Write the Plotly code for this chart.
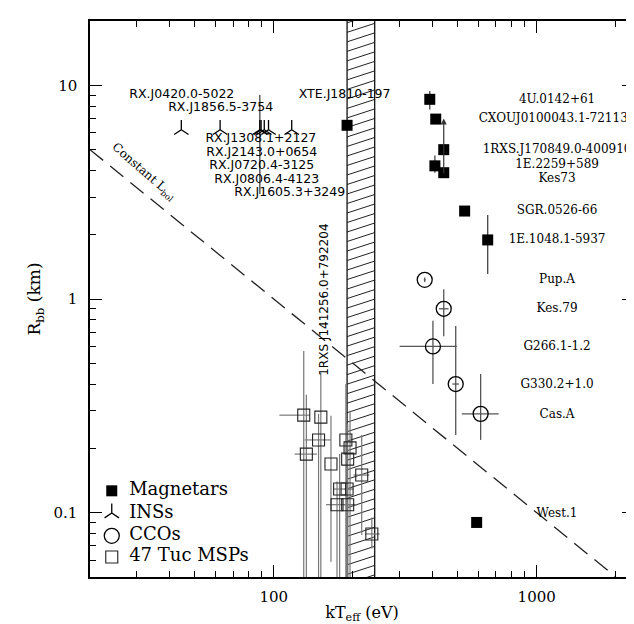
import numpy as np
import plotly.graph_objects as go

# ---- data ----
mag_names = ["XTE.J1810-197", "4U.0142+61", "CXOUJ0100043.1-721134", "1RXS.J170849.0-400910",
             "1E.2259+589", "Kes73", "SGR.0526-66", "1E.1048.1-5937", "West.1"]
mag_kT = [190, 392, 413, 443, 410, 443, 532, 651, 591]
mag_R = [6.5, 8.6, 6.95, 5.0, 4.2, 3.9, 2.58, 1.89, 0.09]
mag_R_lo = [6.5, 7.7, 6.95, 5.0, 3.9, 3.9, 2.58, 1.31, 0.09]
mag_R_hi = [6.5, 9.4, 6.95, 5.0, 4.7, 3.9, 2.58, 2.47, 0.09]
mag_label_kT = [186, 1195, 1195, 1195, 1195, 1195, 1195, 1195, 1195]
mag_label_R = [9.0, 8.53, 6.95, 4.98, 4.24, 3.65, 2.58, 1.89, 0.0986]
# upward arrow (lower limit) drawn in the 1RXS / Kes73 column
arrow_kT = 443
arrow_R = [3.8, 7.0]

ins_names = ["RX.J0420.0-5022", "RX.J1856.5-3754", "RX.J1308.1+2127", "RX.J2143.0+0654",
             "RX.J0720.4-3125", "RX.J0806.4-4123", "RX.J1605.3+3249"]
ins_kT = [44.5, 62.5, 88.5, 89.5, 92, 95.5, 117]
ins_R = [6.2, 6.2, 6.2, 6.2, 6.2, 6.2, 6.2]
ins_R_lo = [6.2, 6.2, 3.1, 6.2, 6.2, 6.2, 6.2]
ins_R_hi = [6.2, 6.2, 9.0, 6.2, 6.2, 6.2, 6.2]
ins_label_kT = [44.7, 62.8, 89.3, 90, 90, 94, 115]
ins_label_R = [9.02, 7.83, 5.61, 4.85, 4.19, 3.62, 3.13]

cco_names = ["Pup.A", "Kes.79", "G266.1-1.2", "G330.2+1.0", "Cas.A"]
cco_kT = [375, 443, 403, 492, 612]
cco_R = [1.23, 0.90, 0.60, 0.40, 0.29]
cco_kT_lo = [372, 425, 301, 478, 519]
cco_kT_hi = [378, 462, 497, 506, 717]
cco_R_lo = [1.2, 0.67, 0.40, 0.231, 0.219]
cco_R_hi = [1.26, 1.11, 0.79, 0.748, 0.446]
cco_label_kT = [1195, 1195, 1195, 1195, 1195]
cco_label_R = [1.23, 0.898, 0.597, 0.396, 0.286]

msp_kT = [130, 151, 148, 133, 165, 188, 195, 191, 216, 178, 190, 174, 191, 236]
msp_R = [0.286, 0.280, 0.219, 0.188, 0.169, 0.219, 0.201, 0.178, 0.150, 0.129, 0.129, 0.109, 0.109, 0.0795]
msp_kT_lo = [105, 151, 131, 120, 165, 188, 195, 191, 201, 168, 185, 158, 185, 222]
msp_kT_hi = [137, 151, 165, 146, 165, 188, 195, 191, 231, 201, 197, 207, 207, 253]
msp_R_lo = [0.02, 0.02, 0.02, 0.02, 0.059, 0.02, 0.02, 0.02, 0.0787, 0.02, 0.02, 0.02, 0.02, 0.068]
msp_R_hi = [0.571, 0.45, 0.29, 0.356, 0.284, 0.40, 0.30, 0.26, 0.231, 0.188, 0.17, 0.14, 0.14, 0.095]

psr_label = "1RXS J141256.0+792204"
psr_label_kT = 155
psr_label_R = 0.99

band_kT = [190, 242]          # hatched region
lbol_kT = [20, 2000]          # constant L_bol line
lbol_R = [5, 0.05]

legend_names = ["Magnetars", "INSs", "CCOs", "47 Tuc MSPs"]

x_ticks = [100, 1000]
y_ticks = [0.1, 1, 10]
x_minor = [20, 30, 40, 50, 60, 70, 80, 90, 200, 300, 400, 500, 600, 700, 800, 900, 2000]
y_minor = [0.05, 0.06, 0.07, 0.08, 0.09, 0.2, 0.3, 0.4, 0.5, 0.6, 0.7, 0.8, 0.9,
           2, 3, 4, 5, 6, 7, 8, 9, 20]

SERIF = "DejaVu Serif"
SANS = "DejaVu Sans"


def errs(val, lo, hi):
    v, l, h = np.array(val), np.array(lo), np.array(hi)
    return dict(type="data", symmetric=False, array=h - v, arrayminus=v - l)


fig = go.Figure()

# hatched band
hx, hy = [], []
for c in np.arange(-1.6, 1.5, 0.0445):
    hx += [band_kT[0], band_kT[1], None]
    hy += [10 ** c, 10 ** (c + 0.042), None]
fig.add_trace(go.Scatter(x=hx, y=hy, mode="lines", line=dict(color="#222", width=1),
                         hoverinfo="skip", showlegend=False))
for b in band_kT:
    fig.add_trace(go.Scatter(x=[b, b], y=[0.01, 100], mode="lines",
                             line=dict(color="#111", width=1.3), showlegend=False))

# constant L_bol
fig.add_trace(go.Scatter(x=lbol_kT, y=lbol_R, mode="lines",
                         line=dict(color="#222", width=1.3, dash="17px,9px"), showlegend=False))

# error bars (kept apart from the markers)
inv = dict(size=1, color="rgba(0,0,0,0)")
fig.add_trace(go.Scatter(x=msp_kT, y=msp_R, mode="markers", marker=inv, showlegend=False,
                         error_x=dict(errs(msp_kT, msp_kT_lo, msp_kT_hi), color="#777", thickness=1.2, width=0),
                         error_y=dict(errs(msp_R, msp_R_lo, msp_R_hi), color="#777", thickness=1.2, width=0)))
fig.add_trace(go.Scatter(x=cco_kT, y=cco_R, mode="markers", marker=inv, showlegend=False,
                         error_x=dict(errs(cco_kT, cco_kT_lo, cco_kT_hi), color="#555", thickness=1.3, width=0),
                         error_y=dict(errs(cco_R, cco_R_lo, cco_R_hi), color="#555", thickness=1.3, width=0)))
fig.add_trace(go.Scatter(x=mag_kT, y=mag_R, mode="markers", marker=inv, showlegend=False,
                         error_y=dict(errs(mag_R, mag_R_lo, mag_R_hi), color="#444", thickness=1.3, width=0)))
fig.add_trace(go.Scatter(x=ins_kT, y=ins_R, mode="markers", marker=inv, showlegend=False,
                         error_y=dict(errs(ins_R, ins_R_lo, ins_R_hi), color="#444", thickness=1.3, width=0)))

# markers
mag_marker = dict(symbol="square", size=11, color="black")
ins_marker = dict(symbol="y-up-open", size=12, color="black", line=dict(color="black", width=1.3))
cco_marker = dict(symbol="circle-open", size=15, color="black", line=dict(color="black", width=1.3))
msp_marker = dict(symbol="square-open", size=12, color="#222", line=dict(color="#222", width=1.1))
fig.add_trace(go.Scatter(x=mag_kT, y=mag_R, mode="markers", marker=mag_marker, showlegend=False))
fig.add_trace(go.Scatter(x=ins_kT, y=ins_R, mode="markers", marker=ins_marker, showlegend=False))
fig.add_trace(go.Scatter(x=cco_kT, y=cco_R, mode="markers", marker=cco_marker, showlegend=False))
fig.add_trace(go.Scatter(x=msp_kT, y=msp_R, mode="markers", marker=msp_marker, showlegend=False))

# labels
fig.add_trace(go.Scatter(x=mag_label_kT[1:] + cco_label_kT, y=mag_label_R[1:] + cco_label_R,
                         text=mag_names[1:] + cco_names, mode="text", cliponaxis=False,
                         textfont=dict(family=SERIF, size=12, color="black"), showlegend=False))
fig.add_trace(go.Scatter(x=ins_label_kT + mag_label_kT[:1], y=ins_label_R + mag_label_R[:1],
                         text=ins_names + mag_names[:1], mode="text", cliponaxis=False,
                         textfont=dict(family=SANS, size=12.5, color="black"), showlegend=False))

fig.add_annotation(x=np.log10(arrow_kT), y=np.log10(arrow_R[1]), ax=np.log10(arrow_kT), ay=np.log10(arrow_R[0]),
                   xref="x", yref="y", axref="x", ayref="y", text="", showarrow=True,
                   arrowhead=2, arrowsize=1, arrowwidth=1.2, arrowcolor="#333")
fig.add_annotation(x=np.log10(psr_label_kT), y=np.log10(psr_label_R), xref="x", yref="y",
                   text=psr_label, textangle=-90,
                   showarrow=False, font=dict(family=SANS, size=12, color="black"))
fig.add_annotation(x=np.log10(32), y=np.log10(3.95), xref="x", yref="y",
                   text="Constant L<sub>bol</sub>", textangle=41,
                   showarrow=False, font=dict(family=SERIF, size=12, color="black"))

# hand-made legend on an overlay axis (0..1)
leg_y = [0.155, 0.115, 0.074, 0.036]
for yy, mk in zip(leg_y, [mag_marker, ins_marker, cco_marker, msp_marker]):
    fig.add_trace(go.Scatter(x=[0.040], y=[yy], mode="markers", marker=mk,
                             xaxis="x2", yaxis="y2", showlegend=False))
fig.add_trace(go.Scatter(x=[0.072] * 4, y=leg_y, text=legend_names, mode="text",
                         textposition="middle right", cliponaxis=False,
                         textfont=dict(family=SERIF, size=18, color="black"),
                         xaxis="x2", yaxis="y2", showlegend=False))

axis_common = dict(type="log", showgrid=False, zeroline=False, showline=True, linecolor="black",
                   linewidth=1.5, mirror="ticks", ticks="inside", ticklen=12, tickwidth=1.2,
                   tickcolor="black", tickfont=dict(family=SERIF, size=15, color="black"))
xaxis = dict(axis_common, range=[np.log10(20), 3.37], tickmode="array", tickvals=x_ticks,
             ticktext=[str(v) for v in x_ticks], ticklabelstandoff=5,
             minor=dict(tickmode="array", tickvals=x_minor, ticks="inside", ticklen=6,
                        tickwidth=1.1, tickcolor="black"),
             title=dict(text="kT<sub>eff</sub> (eV)", font=dict(family=SERIF, size=16, color="black"),
                        standoff=2))
yaxis = dict(axis_common, range=[np.log10(0.05), np.log10(20)], tickmode="array", tickvals=y_ticks,
             ticktext=["0.1", "1", "10"], ticklabelstandoff=8,
             minor=dict(tickmode="array", tickvals=y_minor, ticks="inside", ticklen=6,
                        tickwidth=1.1, tickcolor="black"),
             title=dict(text="R<sub>bb</sub> (km)", font=dict(family=SERIF, size=17, color="black"),
                        standoff=8))

fig.update_layout(
    width=634, height=624,
    margin=dict(l=82, r=6, t=13, b=55),
    paper_bgcolor="white", plot_bgcolor="white",
    showlegend=False,
    xaxis=xaxis, yaxis=yaxis,
    xaxis2=dict(overlaying="x", range=[0, 1], visible=False, anchor="y2"),
    yaxis2=dict(overlaying="y", range=[0, 1], visible=False, anchor="x2"),
)

fig.write_html("out.html")
